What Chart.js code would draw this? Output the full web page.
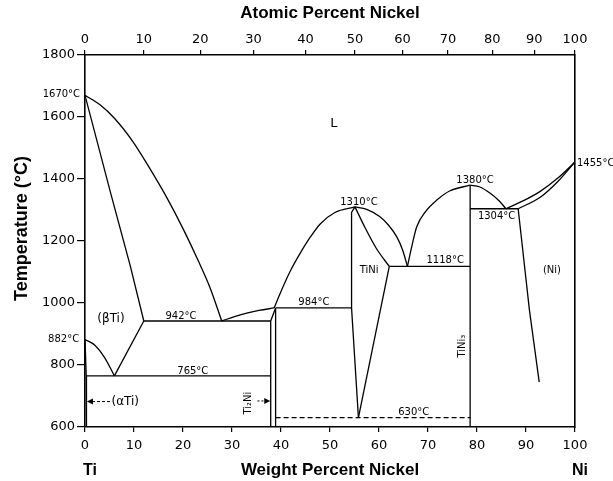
<!DOCTYPE html>
<html><head><meta charset="utf-8">
<script src="https://cdn.jsdelivr.net/npm/chart.js@4/dist/chart.umd.min.js"></script>
<style>html,body{margin:0;padding:0;background:#fff}</style>
</head><body>
<canvas id="c" width="613" height="481"></canvas>
<script>
// ---- tick labels ----
const weightTicks = [0,10,20,30,40,50,60,70,80,90,100];
const atomicTicks = [0,10,20,30,40,50,60,70,80,90,100];
const atomicTickWt = [0,12.0,23.5,34.4,45.0,55.1,64.8,74.1,83.1,91.7,100]; // wt% equivalents
const tempTicks = [600,800,1000,1200,1400,1600,1800];

// ---- phase boundaries: [wt% Ni, °C] ----
const liquidusTi = [[0,1670],[3,1640],[6,1596],[9.8,1520],[13,1440],[16.7,1340],[20,1240],[23,1140],[25.5,1050],[27.9,942]];
const betaSolidus = [[0,1670],[5.4,1345],[9.2,1122],[12,942]];
const alphaBeta = [[0,882],[2,864],[4,824],[6,765]];
const betaSolvus = [[6,765],[12,942]];
const eutectic942 = [[12,942],[37.9,942]];
const eutectoid765 = [[0.25,765],[37.9,765]];
const alphaSolvus = [[0,882],[0.25,765],[0.3,600]];
const liquidusTi2Ni = [[27.9,942],[30.5,956],[33,967],[35.5,976],[38.6,984]];
const liquidusTiNiLeft = [[38.6,984],[39.8,1030],[41.8,1100],[43.9,1160],[46,1213],[48,1255],[51,1292],[55.1,1310]];
const ti2NiLeft = [[37.9,600],[37.9,942],[38.9,984]];
const ti2NiRight = [[38.9,600],[38.9,984]];
const peritectic984 = [[38.9,984],[54.4,984]];
const tiNiLeft = [[55.1,1310],[54.4,1292],[54.4,984],[55.8,630]];
const tiNiRightUpper = [[55.1,1310],[57,1248],[59.5,1175],[62.1,1118]];
const tiNiRightLower = [[62.1,1118],[55.8,630]];
const liquidusTiNiRight = [[55.1,1310],[57.5,1302],[60.2,1278],[62,1250],[63.6,1214],[64.8,1172],[65.8,1118]];
const liquidusTiNi3Left = [[65.8,1118],[66.8,1190],[67.7,1246],[69.5,1295],[71.8,1332],[74.5,1362],[78.6,1380]];
const liquidusTiNi3Right = [[78.6,1380],[80.5,1375],[82.7,1354],[84.5,1330],[85.9,1304]];
const eutectic1118 = [[62.1,1118],[78.6,1118]];
const tiNi3 = [[78.6,600],[78.6,1380]];
const eutectic1304 = [[78.6,1304],[88.4,1304]];
const niSolvus = [[88.4,1304],[90.7,977],[92.7,745]];
const niLiquidus = [[85.9,1304],[89.5,1330],[92.9,1360],[96.5,1403],[100,1455]];
const niSolidus = [[88.4,1304],[92.9,1341],[96.5,1392],[100,1455]];
const eutectoid630 = [[38.9,630],[78.6,630]];

const curves = [liquidusTi, alphaBeta, liquidusTi2Ni, liquidusTiNiLeft, tiNiRightUpper, liquidusTiNiRight,
  liquidusTiNi3Left, liquidusTiNi3Right, niLiquidus, niSolidus];
const straights = [betaSolidus, betaSolvus, eutectic942, eutectoid765, alphaSolvus, ti2NiLeft, ti2NiRight,
  peritectic984, tiNiLeft, tiNiRightLower, eutectic1118, tiNi3, eutectic1304, niSolvus];
const dashed = [eutectoid630];

// ---- text annotations (position in data units) ----
const notes = [
  {t:'1670°C', x:-1.0, y:1672, a:'right', s:10},
  {t:'882°C', x:-1.2, y:882, a:'right', s:10},
  {t:'(βTi)', x:5.3, y:950, a:'center', s:12},
  {t:'942°C', x:19.6, y:958, a:'center', s:10},
  {t:'765°C', x:22, y:779, a:'center', s:10},
  {t:'(αTi)', x:5.4, y:682, a:'left', s:12},
  {t:'984°C', x:46.7, y:1001, a:'center', s:10},
  {t:'1310°C', x:55.9, y:1325, a:'center', s:10},
  {t:'TiNi', x:58, y:1105, a:'center', s:10},
  {t:'1118°C', x:73.5, y:1139, a:'center', s:10},
  {t:'1380°C', x:79.6, y:1397, a:'center', s:10},
  {t:'1304°C', x:84, y:1278, a:'center', s:10},
  {t:'(Ni)', x:95.3, y:1106, a:'center', s:10},
  {t:'1455°C', x:100.4, y:1451, a:'left', s:10},
  {t:'630°C', x:67.1, y:647, a:'center', s:10},
  {t:'L', x:50.8, y:1580, a:'center', s:13},
];

const toXY = arr => arr.map(([x,y]) => ({x, y}));
const datasets = [];
curves.forEach(c => datasets.push({data: toXY(c), showLine:true, cubicInterpolationMode:'monotone', borderColor:'#000', borderWidth:1.3, pointRadius:0}));
straights.forEach(c => datasets.push({data: toXY(c), showLine:true, tension:0, borderColor:'#000', borderWidth:1.3, pointRadius:0}));
dashed.forEach(c => datasets.push({data: toXY(c), showLine:true, tension:0, borderColor:'#000', borderWidth:1.2, borderDash:[5,3], pointRadius:0}));

const annot = {
  id:'annot',
  afterDatasetsDraw(chart){
    const {ctx, scales:{x, y}, chartArea} = chart;
    ctx.save();
    ctx.fillStyle = '#000'; ctx.strokeStyle = '#000';
    ctx.textBaseline = 'middle';
    notes.forEach(n => {
      ctx.font = n.s + 'px "DejaVu Sans"';
      ctx.textAlign = n.a;
      ctx.fillText(n.t, x.getPixelForValue(n.x), y.getPixelForValue(n.y));
    });
    // αTi arrow
    const ay = y.getPixelForValue(682);
    const ax0 = x.getPixelForValue(5.1), ax1 = x.getPixelForValue(0.4);
    ctx.lineWidth = 1; ctx.setLineDash([3,2]);
    ctx.beginPath(); ctx.moveTo(ax0, ay); ctx.lineTo(ax1+5, ay); ctx.stroke();
    ctx.setLineDash([]);
    ctx.beginPath(); ctx.moveTo(ax1, ay); ctx.lineTo(ax1+6, ay-3); ctx.lineTo(ax1+6, ay+3); ctx.closePath(); ctx.fill();
    // Ti2Ni arrow
    const by = y.getPixelForValue(684);
    const bx0 = x.getPixelForValue(35.2), bx1 = x.getPixelForValue(37.8);
    ctx.setLineDash([2,2]);
    ctx.beginPath(); ctx.moveTo(bx0, by); ctx.lineTo(bx1-5, by); ctx.stroke();
    ctx.setLineDash([]);
    ctx.beginPath(); ctx.moveTo(bx1, by); ctx.lineTo(bx1-6, by-3); ctx.lineTo(bx1-6, by+3); ctx.closePath(); ctx.fill();
    // rotated labels
    ctx.font = '10px "DejaVu Sans"'; ctx.textAlign = 'center';
    ctx.save(); ctx.translate(x.getPixelForValue(33.3), y.getPixelForValue(677)); ctx.rotate(-Math.PI/2);
    ctx.fillText('Ti₂Ni', 0, 0); ctx.restore();
    ctx.save(); ctx.translate(x.getPixelForValue(77.1), y.getPixelForValue(861)); ctx.rotate(-Math.PI/2);
    ctx.fillText('TiNi₃', 0, 0); ctx.restore();
    // Ti / Ni end labels
    ctx.font = 'bold 16px "Liberation Sans"'; ctx.textAlign = 'center';
    ctx.fillText('Ti', x.getPixelForValue(0)+5, chartArea.bottom + 44);
    ctx.fillText('Ni', x.getPixelForValue(100)+5, chartArea.bottom + 44);
    ctx.restore();
  }
};

const tickFont = {family:'DejaVu Sans', size:13};
const titleFont = {family:'Liberation Sans', size:17, weight:'bold'};
const plain = v => String(v);

new Chart(document.getElementById('c'), {
  type:'scatter',
  data:{datasets},
  options:{
    responsive:false, animation:false, devicePixelRatio:1,
    layout:{padding:0},
    plugins:{legend:{display:false}, tooltip:{enabled:false}},
    scales:{
      x:{type:'linear', position:'bottom', min:0, max:100,
        afterBuildTicks: s => { s.ticks = weightTicks.map(v => ({value:v})); },
        ticks:{color:'#000', font:tickFont, padding:6, maxRotation:0, autoSkip:false, callback:plain},
        grid:{drawOnChartArea:false, drawTicks:true, tickLength:5, color:'#000', lineWidth:1.2},
        border:{display:true, color:'#000', width:1.6},
        title:{display:true, text:'Weight Percent Nickel', color:'#000', font:titleFont, padding:{top:0, bottom:0}},
        afterFit: s => { s.height = 54; }
      },
      x2:{type:'linear', position:'top', min:0, max:100,
        afterBuildTicks: s => { s.ticks = atomicTickWt.map(v => ({value:v})); },
        ticks:{color:'#000', font:tickFont, padding:3, maxRotation:0, autoSkip:false,
          callback:(v, i) => String(atomicTicks[i])},
        grid:{drawOnChartArea:false, drawTicks:true, tickLength:5, color:'#000', lineWidth:1.2},
        border:{display:true, color:'#000', width:1.6},
        title:{display:true, text:'Atomic Percent Nickel', color:'#000', font:titleFont, padding:{top:3, bottom:0}},
        afterFit: s => { s.height = 55; }
      },
      y:{type:'linear', position:'left', min:600, max:1800,
        afterBuildTicks: s => { s.ticks = tempTicks.map(v => ({value:v})); },
        ticks:{color:'#000', font:tickFont, padding:2, callback:plain},
        grid:{drawOnChartArea:false, drawTicks:true, tickLength:8, color:'#000', lineWidth:1.2},
        border:{display:true, color:'#000', width:1.6},
        title:{display:true, text:'     Temperature (°C)', color:'#000', font:{family:'Liberation Sans', size:18, weight:'bold'}, padding:{top:11, bottom:0}},
        afterFit: s => { s.width = 85; }
      },
      y2:{type:'linear', position:'right', min:600, max:1800,
        ticks:{display:false},
        grid:{drawOnChartArea:false, drawTicks:false},
        border:{display:true, color:'#000', width:1.6},
        afterFit: s => { s.width = 38; }
      }
    }
  },
  plugins:[annot]
});
</script>
</body></html>
